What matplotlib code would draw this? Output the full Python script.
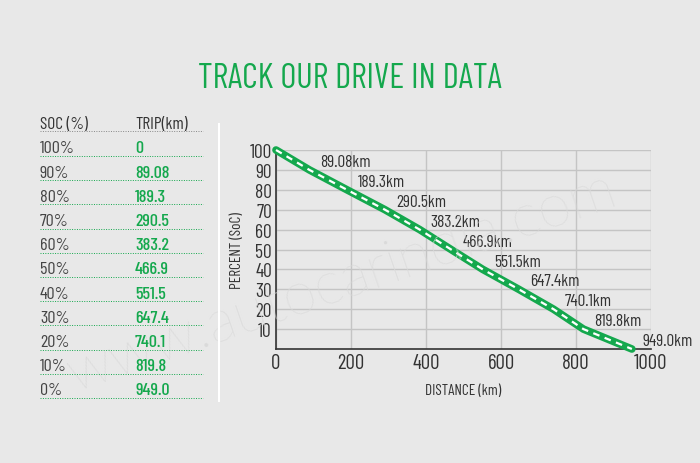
import matplotlib.pyplot as plt
from matplotlib.lines import Line2D

# Data
soc = [100, 90, 80, 70, 60, 50, 40, 30, 20, 10, 0]
trip = [0, 89.08, 189.3, 290.5, 383.2, 466.9, 551.5, 647.4, 740.1, 819.8, 949.0]
soc_text = ['100%', '90%', '80%', '70%', '60%', '50%', '40%', '30%', '20%', '10%', '0%']
trip_text = ['0', '89.08', '189.3', '290.5', '383.2', '466.9', '551.5', '647.4', '740.1', '819.8', '949.0']
x_ticks = [0, 200, 400, 600, 800, 1000]
y_ticks = [10, 20, 30, 40, 50, 60, 70, 80, 90, 100]

GREEN = '#14a84d'
DARK = '#333333'
BG = '#e8e8e8'
COND = ['Barlow Condensed', 'DejaVu Sans']

W, H = 700, 464
fig = plt.figure(figsize=(W / 100, H / 100), dpi=100, facecolor=BG)

def fx(px):
    return px / W

def fy(py):
    return 1 - py / H

# watermark
fig.text(fx(342), fy(283), 'www.autocarindia.com', rotation=19, fontsize=43,
         color='#dadada', ha='center', va='center', family=['Lato', 'DejaVu Sans'],
         fontweight='light', zorder=0)

# title
fig.text(0.5, fy(79), 'TRACK OUR DRIVE IN DATA', color=GREEN, fontsize=25,
         ha='center', va='center', family=COND)

# table on the left
col1, col2, row0, step = 40, 135, 149, 24.2
fig.text(fx(col1), fy(125), 'SOC (%)', color=DARK, fontsize=12.5, va='center', family=COND)
fig.text(fx(col2), fy(125), 'TRIP(km)', color=DARK, fontsize=12.5, va='center', family=COND)
fig.add_artist(Line2D([fx(col1), fx(203)], [fy(132), fy(132)], color='#888888',
                      lw=0.7, linestyle=(0, (1, 1.5))))
for i, (s, t) in enumerate(zip(soc_text, trip_text)):
    yy = row0 + i * step
    fig.text(fx(col1), fy(yy), s, color='#444444', fontsize=13, va='center', family=COND)
    fig.text(fx(col2), fy(yy), t, color=GREEN, fontsize=13, va='center', family=COND,
             fontweight='medium')
    fig.add_artist(Line2D([fx(col1), fx(203)], [fy(yy + 8), fy(yy + 8)], color=GREEN,
                          lw=0.7, linestyle=(0, (1, 1.5))))

# divider
fig.add_artist(Line2D([fx(219), fx(219)], [fy(125), fy(402)], color='white', lw=1.5))

# chart
ax = fig.add_axes([fx(276), fy(350), fx(651) - fx(276), fy(151) - fy(350)])
ax.patch.set_alpha(0)
ax.set_xlim(0, 1000)
ax.set_ylim(0, 100)
ax.set_xticks(x_ticks)
ax.set_yticks(y_ticks)
ax.grid(True, color='#c4c4c4', lw=1)
ax.set_axisbelow(True)
for side in ['top', 'right']:
    ax.spines[side].set_visible(False)
for side in ['left', 'bottom']:
    ax.spines[side].set_color(DARK)
    ax.spines[side].set_linewidth(1.2)
ax.tick_params(length=0, labelcolor=DARK)
for lab in ax.get_xticklabels():
    lab.set_fontsize(15)
    lab.set_family(COND)
for lab in ax.get_yticklabels():
    lab.set_fontsize(14)
    lab.set_family(COND)
ax.tick_params(axis='x', pad=3)
ax.tick_params(axis='y', pad=3)

ax.plot(trip, soc, color=GREEN, lw=5.5, solid_capstyle='round',
        solid_joinstyle='round', clip_on=False, zorder=3)
ax.plot(trip, soc, color='white', lw=1.6, dashes=(3, 2.5), clip_on=False, zorder=4)

for t, s, lbl in zip(trip[1:], soc[1:], trip_text[1:]):
    ax.annotate(lbl + 'km', (t, s), xytext=(8, 6), textcoords='offset points',
                ha='left', va='center', fontsize=12.5, color=DARK, family=COND,
                zorder=5, annotation_clip=False)

ax.set_ylabel('PERCENT (SoC)', fontsize=11, color=DARK, family=COND, labelpad=4)
ax.set_xlabel('DISTANCE (km)', fontsize=11, color=DARK, family=COND, labelpad=8)

fig.savefig('out.png', dpi=100, facecolor=BG)
